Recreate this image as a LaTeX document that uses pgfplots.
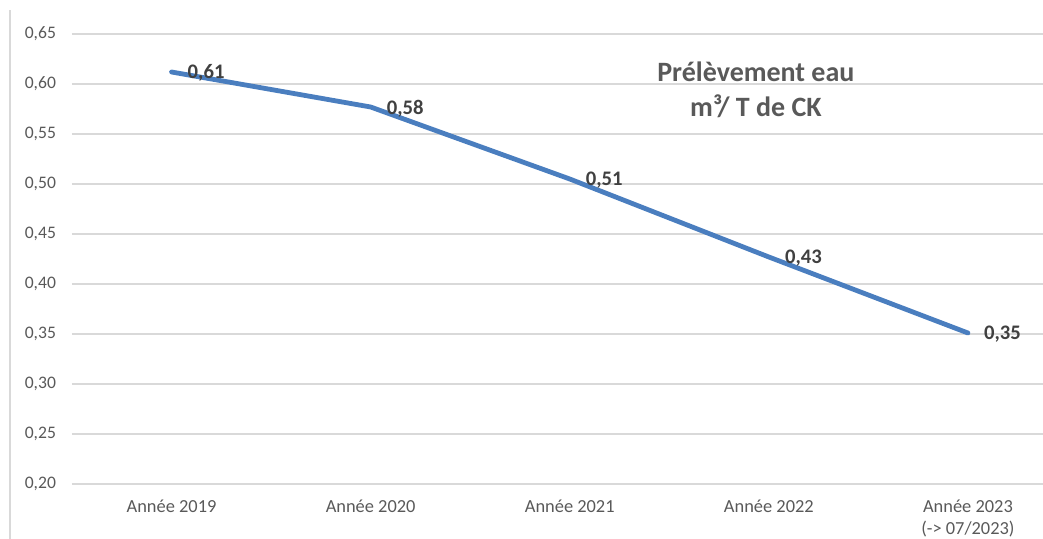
\documentclass[border=0pt]{standalone}
\usepackage{fontspec}
\setmainfont{Carlito}
\usepackage{pgfplots}
\pgfplotsset{compat=1.18}
\definecolor{linecol}{HTML}{4A7EBF}
\definecolor{gridcol}{HTML}{D9D9D9}
\definecolor{tickcol}{HTML}{595959}
\definecolor{labcol}{HTML}{404040}
\begin{document}
\begin{tikzpicture}
\useasboundingbox (-54pt,-41.25pt) rectangle (728.25pt,363pt);
\draw[gridcol, line width=1.1pt] (-46.5pt,-41.25pt) -- (-46.5pt,355.5pt);
\begin{axis}[
  at={(0,0)}, anchor=south west,
  width=728.25pt, height=337.5pt, scale only axis,
  xmin=-0.5, xmax=4.377,
  ymin=0.20, ymax=0.65,
  ytick={0.20,0.25,...,0.65},
  xtick={0,1,2,3,4},
  xticklabels={Année 2019,Année 2020,Année 2021,Année 2022,{Année 2023\\(-> 07/2023)}},
  axis line style={draw=none},
  major tick length=0pt,
  ymajorgrids, grid style={gridcol, line width=1.1pt},
  clip=false,
  /pgf/number format/.cd, use comma, fixed, fixed zerofill, precision=2, assume math mode=true,
  /pgfplots/.cd,
  yticklabel style={font=\fontsize{13.2}{15}\selectfont, text=tickcol, anchor=east, xshift=-8.5pt},
  xticklabel style={font=\fontsize{13.8}{16.5}\selectfont, text=tickcol, anchor=north, yshift=-8.5pt, align=center},
  every node near coord/.append style={font=\fontsize{15.5}{17}\selectfont\bfseries, text=labcol, anchor=west, xshift=7pt, yshift=-1pt},
]
\addplot[linecol, line width=3.6pt, line cap=round, line join=round,
  nodes near coords, point meta=explicit symbolic]
  coordinates {
    (0,0.612) [0{,}61]
    (1,0.577) [0{,}58]
    (2,0.505) [0{,}51]
    (3,0.427) [0{,}43]
    (4,0.351) [0{,}35]
  };
\node[align=center, font=\fontsize{21}{26.25}\selectfont\bfseries, text=tickcol]
  at (axis cs:2.935,0.5945) {Prélèvement eau\\m³/ T de CK};
\end{axis}
\end{tikzpicture}
\end{document}
